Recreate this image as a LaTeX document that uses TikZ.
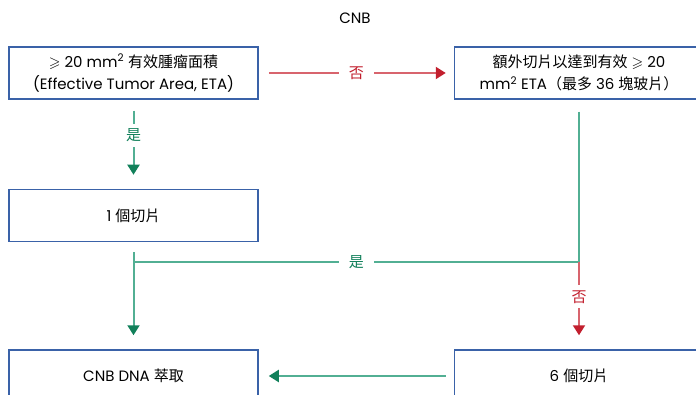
\documentclass[tikz,border=0pt]{standalone}
\usepackage{amssymb}
\usepackage{fontspec}
\setmainfont{Poppins}
\newfontfamily\cjk{Noto Sans CJK TC}
\usetikzlibrary{arrows.meta,positioning}

\definecolor{boxblue}{HTML}{3A62A8}
\definecolor{yesline}{HTML}{52AF93}
\definecolor{yestip}{HTML}{11805A}
\definecolor{noline}{HTML}{D8646D}
\definecolor{notip}{HTML}{C21F2E}

\begin{document}
\begin{tikzpicture}[
        x=1pt, y=-1pt,
        font=\fontsize{15}{22}\selectfont,
        box/.style={draw=boxblue, line width=1.5pt, minimum width=249pt,
            minimum height=52pt, inner sep=2pt, align=center},
        yesarrow/.style={draw=yesline, line width=2pt,
            -{Triangle[length=10pt,width=12pt,color=yestip]}},
        noarrow/.style={draw=noline, line width=2pt,
            -{Triangle[length=10pt,width=12pt,color=notip]}},
        yeslab/.style={fill=white, text=yestip, inner xsep=10pt, inner ysep=5pt, font=\fontsize{15}{15}\selectfont\cjk},
        nolab/.style={fill=white, text=notip, inner xsep=10pt, inner ysep=5pt, font=\fontsize{15}{15}\selectfont\cjk}
    ]
    \useasboundingbox (0,0) rectangle (696,395);

%%
% Title and first check on the tumour area
    \node (cnb) at (355,18) {CNB};
    \node (tumor) [box] at (133.5,73)
        {$\geqslant$ 20 mm\textsuperscript{2} {\cjk 有效腫瘤面積}\\(Effective Tumor Area, ETA)};
    \node (extra) [box,right=195pt of tumor]
        {{\cjk 額外切片以達到有效} $\geqslant$ 20\\mm\textsuperscript{2} ETA{\cjk（最多} 36 {\cjk 塊玻片）}};
    \node (one) [box,below=89pt of tumor] {1 {\cjk 個切片}};
    \node (extract) [box,below=107pt of one] {CNB DNA {\cjk 萃取}};
    \node (six) [box,right=195pt of extract] {6 {\cjk 個切片}};
    \coordinate (join) at (extra.south |- 0,262);
    \coordinate (meet) at (one.south |- join);

%%
% Connectors
    \draw[noarrow, shorten <=10pt, shorten >=8pt]
        (tumor) -- node[nolab] {否} (extra);
    \draw[yesarrow, shorten <=11pt, shorten >=14pt]
        (tumor) -- node[yeslab, pos=0.4] {是} (one);
    \draw[draw=yesline, line width=2pt, shorten <=12pt] (extra) -- (join);
    \draw[draw=yesline, line width=2pt]
        (join) -- node[yeslab, pos=0.5] {是} (meet);
    \draw[yesarrow, shorten <=10pt, shorten >=14pt] (one) -- (extract);
    \draw[noarrow, shorten >=14pt]
        (join) -- node[nolab, pos=0.4] {否} (six);
    \draw[yesarrow, shorten <=8pt, shorten >=10pt] (six) -- (extract);

\end{tikzpicture}
\end{document}
